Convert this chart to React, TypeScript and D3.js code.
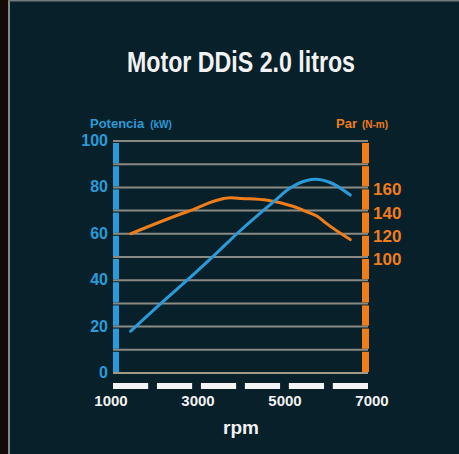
import React, { useEffect, useRef } from 'react'
import * as d3 from 'd3'

const svgWidth = 459
const svgHeight = 454

// potencia (kW)
const powerRpm = [1450, 2150, 2750, 3500, 3950, 4750, 5100, 5500, 5700, 6050, 6500]
const powerKw = [18, 30, 40, 53, 61, 74, 79.5, 83, 83.5, 82, 76.7]

// par (N-m)
const torqueRpm = [1450, 2750, 3750, 4000, 4600, 5200, 5500, 5750, 5950, 6500]
const torqueNm = [120, 139, 151, 150.5, 149, 143.5, 139, 135, 129, 115]

const kwTicks = [0, 20, 40, 60, 80, 100]
const nmTicks = [100, 120, 140, 160]
const rpmTicks = [1000, 3000, 5000, 7000]
const rpmBands = ['1', '2', '3', '4', '5', '6']

const blue = '#2a9bd8'
const orange = '#f07d1c'
const bg = '#08202a'
const cond = '"Liberation Sans Narrow", "Liberation Sans", sans-serif'

const plotLeft = 113
const plotRight = 368
const plotTop = 141
const plotBottom = 373

export default function App() {
	const ref = useRef<SVGSVGElement>(null)

	useEffect(() => {
		const svg = d3.select(ref.current)
		svg.selectAll('*').remove()

		svg.append('rect').attr('width', svgWidth).attr('height', svgHeight).attr('fill', bg)
		svg.append('rect').attr('width', 8).attr('height', svgHeight).attr('fill', '#140b07')
		svg.append('rect').attr('x', 8).attr('width', 2).attr('height', svgHeight).attr('fill', '#7f8a8c')
		svg.append('rect').attr('x', 8).attr('width', svgWidth).attr('height', 1.5).attr('fill', '#6f7a7c')

		const x = d3.scaleLinear().domain([1000, 7000]).range([111, 372])
		const yKw = d3.scaleLinear().domain([0, 100]).range([plotBottom, plotTop])
		const yNm = d3.scaleLinear().domain([0, 200]).range([plotBottom, plotTop])
		const band = d3.scaleBand().domain(rpmBands).range([plotLeft, plotRight]).paddingInner(0.2)

		svg.append('text')
			.attr('x', 241).attr('y', 72)
			.attr('text-anchor', 'middle')
			.attr('fill', '#f2f2f2')
			.attr('font-family', cond)
			.attr('font-weight', 'bold')
			.attr('font-size', 29)
			.attr('textLength', 228)
			.attr('lengthAdjust', 'spacingAndGlyphs')
			.text('Motor DDiS 2.0 litros')

		// gridlines
		const grid = d3.range(0, 101, 10)
		svg.append('g').selectAll('line').data(grid).enter().append('line')
			.attr('x1', plotLeft).attr('x2', plotRight)
			.attr('y1', d => yKw(d)).attr('y2', d => yKw(d))
			.attr('stroke', d => (d === 0 ? '#a39a86' : '#8a8a84'))
			.attr('stroke-width', 2)

		// segmented side bars
		const segs = d3.range(0, 100, 10)
		const bars = [
			{ x: 113, w: 6, c: blue },
			{ x: 362, w: 7, c: orange },
		]
		bars.forEach(b => {
			svg.append('g').selectAll('rect').data(segs).enter().append('rect')
				.attr('x', b.x).attr('width', b.w)
				.attr('y', d => yKw(d + 10) + 2)
				.attr('height', d => yKw(d) - yKw(d + 10) - 3)
				.attr('fill', b.c)
		})

		// rpm dashes
		svg.append('g').selectAll('rect').data(rpmBands).enter().append('rect')
			.attr('x', d => band(d) as number)
			.attr('width', band.bandwidth())
			.attr('y', 383).attr('height', 6)
			.attr('fill', '#f4f4f4')

		const line = d3.line<[number, number]>().curve(d3.curveMonotoneX)

		svg.append('path')
			.attr('d', line(torqueRpm.map((r, i) => [x(r), yNm(torqueNm[i])])))
			.attr('fill', 'none').attr('stroke', orange)
			.attr('stroke-width', 3).attr('stroke-linecap', 'round')

		svg.append('path')
			.attr('d', line(powerRpm.map((r, i) => [x(r), yKw(powerKw[i])])))
			.attr('fill', 'none').attr('stroke', blue)
			.attr('stroke-width', 3).attr('stroke-linecap', 'round')

		// left ticks
		svg.append('g').selectAll('text').data(kwTicks).enter().append('text')
			.attr('x', 108).attr('y', d => yKw(d) + 5)
			.attr('text-anchor', 'end')
			.attr('fill', blue)
			.attr('font-family', cond).attr('font-weight', 'bold').attr('font-size', 16)
			.text(d => d)

		// right ticks
		svg.append('g').selectAll('text').data(nmTicks).enter().append('text')
			.attr('x', 373).attr('y', d => yNm(d) + 8)
			.attr('fill', orange)
			.attr('font-family', cond).attr('font-weight', 'bold').attr('font-size', 17)
			.text(d => d)

		// rpm ticks
		svg.append('g').selectAll('text').data(rpmTicks).enter().append('text')
			.attr('x', d => x(d)).attr('y', 406)
			.attr('text-anchor', 'middle')
			.attr('fill', '#f2f2f2')
			.attr('font-family', cond).attr('font-weight', 'bold').attr('font-size', 15)
			.text(d => d)

		const potencia = svg.append('text')
			.attr('x', 90).attr('y', 128)
			.attr('fill', blue)
			.attr('font-family', cond).attr('font-weight', 'bold')
		potencia.append('tspan').attr('font-size', 13).text('Potencia')
		potencia.append('tspan').attr('font-size', 10).attr('dx', 6).text('(kW)')

		const par = svg.append('text')
			.attr('x', 336).attr('y', 128)
			.attr('fill', orange)
			.attr('font-family', cond).attr('font-weight', 'bold')
		par.append('tspan').attr('font-size', 13).text('Par')
		par.append('tspan').attr('font-size', 10).attr('dx', 5).text('(N-m)')

		svg.append('text')
			.attr('x', 241).attr('y', 434)
			.attr('text-anchor', 'middle')
			.attr('fill', '#f2f2f2')
			.attr('font-family', cond).attr('font-weight', 'bold').attr('font-size', 19)
			.text('rpm')
	}, [])

	return (
		<svg
			ref={ref}
			width={svgWidth}
			height={svgHeight}
			style={{ position: 'fixed', left: 0, top: 0, display: 'block' }}
		/>
	)
}
